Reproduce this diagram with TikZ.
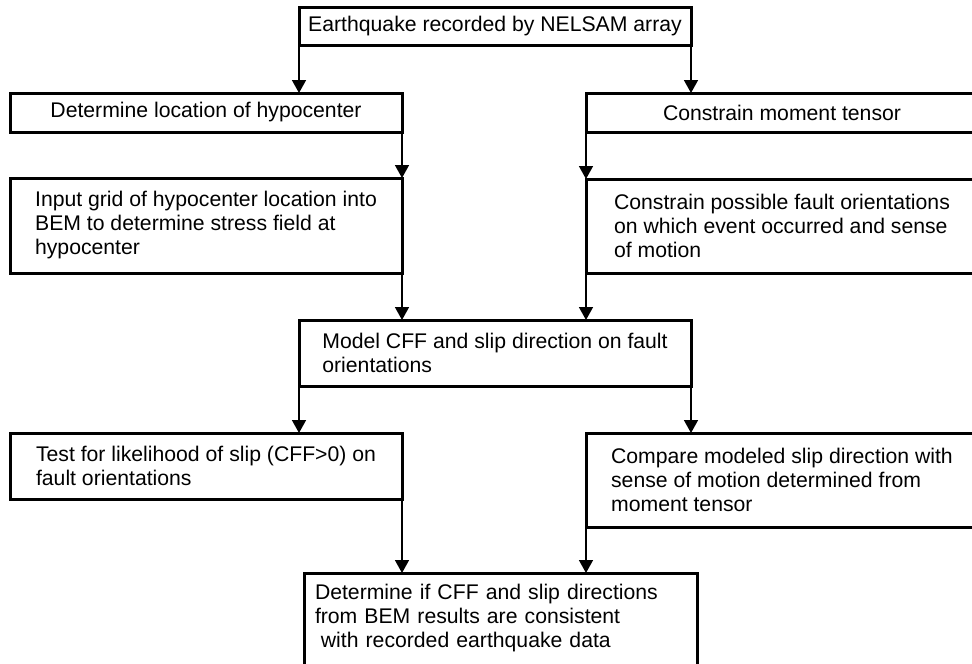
\documentclass[tikz,border=0pt]{standalone}
\usepackage{fontspec}
\setmainfont{Liberation Sans}
\usetikzlibrary{arrows.meta}
\begin{document}
\begin{tikzpicture}[x=1pt,y=-1pt,
  stepbox/.style={draw, line width=3pt, outer sep=0pt, inner sep=0pt,
    minimum width=392pt, align=left,
    font=\fontsize{21.2pt}{24pt}\selectfont},
  link/.style={line width=1.6pt, -{Triangle[length=13pt,width=14pt]}}]
\useasboundingbox (0,0) rectangle (972,664);
\clip (0,0) rectangle (972,664);

% process steps
\node[stepbox, align=center, minimum height=38pt] (quake) at (495,26)
  {Earthquake recorded by NELSAM array};
\node[stepbox, align=center, minimum height=39pt] (locate) at (206,112.5)
  {Determine location of hypocenter};
\node[stepbox, align=center, minimum height=39pt] (tensor) at (782,112.5)
  {Constrain moment tensor};
\node[stepbox, minimum height=95pt] (grid) at (206,225.5)
  {Input grid of hypocenter location into\\BEM to determine stress field at\\hypocenter};
\node[stepbox, minimum height=94pt] (orient) at (782,226)
  {Constrain possible fault orientations\\on which event occurred and sense\\of motion};
\node[stepbox, minimum height=66pt] (model) at (495,353)
  {Model CFF and slip direction on fault\\orientations};
\node[stepbox, minimum height=66pt] (likely) at (206,466)
  {Test for likelihood of slip (CFF>0) on\\fault orientations};
\node[stepbox, minimum height=94pt] (compare) at (782,480)
  {Compare modeled slip direction with\\sense of motion determined from\\moment tensor};
\node[stepbox, text width=371pt, inner xsep=11pt, minimum width=393pt,
  minimum height=99pt] (verdict) at (500.5,622.5)
  {Determine if CFF and slip directions\\from BEM results are consistent\\%
   \hspace*{5.9pt}with recorded earthquake data\rule[-14pt]{0pt}{14pt}};

% connectors
\draw[link] (quake.south west) -- (quake.south west |- locate.north);
\draw[link] (quake.south east) -- (quake.south east |- tensor.north);
\draw[link] (locate.south east) -- (grid.north east);
\draw[link] (tensor.south west) -- (orient.north west);
\draw[link] (grid.south east) -- (grid.south east |- model.north);
\draw[link] (orient.south west) -- (orient.south west |- model.north);
\draw[link] (model.south west) -- (model.south west |- likely.north);
\draw[link] (model.south east) -- (model.south east |- compare.north);
\draw[link] (likely.south east) -- (likely.south east |- verdict.north);
\draw[link] (compare.south west) -- (compare.south west |- verdict.north);
\end{tikzpicture}
\end{document}
